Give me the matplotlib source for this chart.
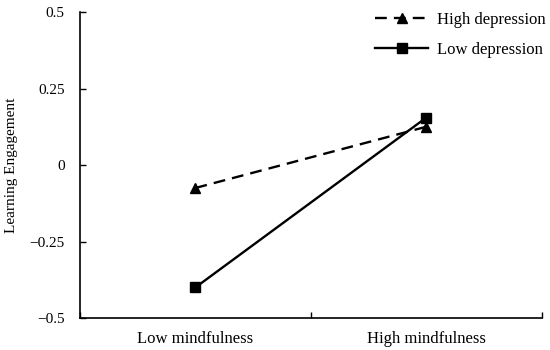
import matplotlib
matplotlib.use("Agg")
import matplotlib.pyplot as plt
from matplotlib.ticker import FixedLocator, NullFormatter

categories = ["Low mindfulness", "High mindfulness"]
high_depression = [-0.075, 0.125]
low_depression = [-0.40, 0.155]
y_ticks = [-0.5, -0.25, 0, 0.25, 0.5]
y_labels = ["\u22120.5", "\u22120.25", "0", "0.25", "0.5"]

plt.rcParams["font.family"] = ["Liberation Serif", "DejaVu Serif"]
plt.rcParams["font.size"] = 12

fig = plt.figure(figsize=(5.5, 3.5), dpi=100)
ax = fig.add_axes([0.1455, 0.0914, 0.8395, 0.8743])

x = list(range(len(categories)))
ax.plot(x, high_depression, color="black", linestyle=(0, (5, 3)), linewidth=1.7,
        marker="^", markersize=6.5, label="High depression")
ax.plot(x, low_depression, color="black", linestyle="-", linewidth=1.7,
        marker="s", markersize=7, label="Low depression")

ax.set_xlim(-0.5, len(categories) - 0.5)
ax.set_ylim(-0.5, 0.5)

# category labels centred, ticks on the boundaries (Excel style)
ax.xaxis.set_major_locator(FixedLocator([i + 0.5 for i in range(-1, len(categories))]))
ax.xaxis.set_major_formatter(NullFormatter())
ax.xaxis.set_minor_locator(FixedLocator(x))
ax.set_xticklabels(categories, minor=True)
ax.tick_params(axis="x", which="major", direction="in", length=4, width=1)
ax.tick_params(axis="x", which="minor", length=0, pad=9)

ax.set_yticks(y_ticks)
ax.set_yticklabels(y_labels, fontsize=11)
ax.tick_params(axis="y", direction="in", length=4, width=1, pad=11)
ax.set_ylabel("Learning Engagement", fontsize=11)
ax.yaxis.set_label_coords(-0.135, 0.5)

for side in ["top", "right"]:
    ax.spines[side].set_visible(False)
for side in ["left", "bottom"]:
    ax.spines[side].set_linewidth(1.2)

ax.legend(loc="upper right", frameon=False, handlelength=3.2,
          bbox_to_anchor=(1.04, 1.05), labelspacing=0.85, handletextpad=0.5)

fig.savefig("out.png", dpi=100)
